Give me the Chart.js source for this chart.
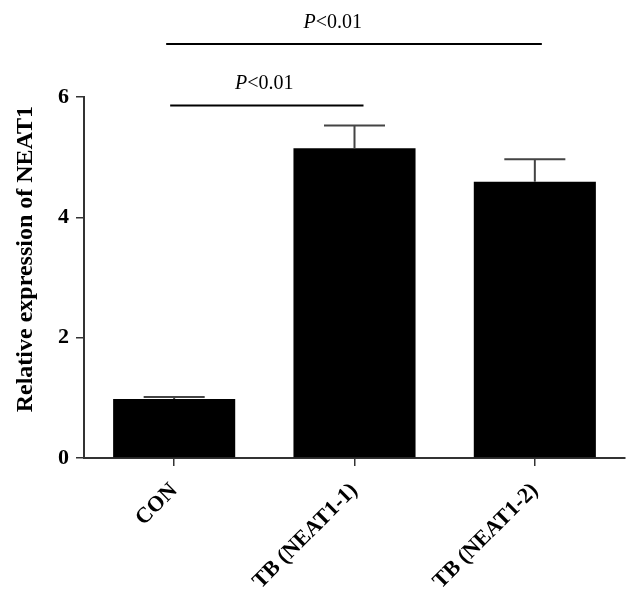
<!DOCTYPE html>
<html>
<head>
<meta charset="utf-8">
<script src="https://cdn.jsdelivr.net/npm/chart.js@4/dist/chart.umd.min.js"></script>
<style>
html,body{margin:0;padding:0;background:#fff;}
#wrap{width:639px;height:592px;position:relative;}
</style>
</head>
<body>
<div id="wrap"><canvas id="c" width="639" height="592"></canvas></div>
<script>
const categories = ['CON', 'TB (NEAT1-1)', 'TB (NEAT1-2)'];
const means = [0.98, 5.15, 4.59];
const errors = [0.035, 0.375, 0.375];
const yTicks = [0, 2, 4, 6];
const yTitle = 'Relative expression of NEAT1';
// significance brackets
const sigFrom = [0, 0];
const sigTo = [1, 2];
const sigY = [5.86, 6.88];
const sigLabel = ['P<0.01', 'P<0.01'];

const FONT = "'Liberation Serif', 'DejaVu Serif', serif";

const errorBarPlugin = {
  id: 'errorBars',
  afterDatasetsDraw(chart) {
    const ctx = chart.ctx;
    const meta = chart.getDatasetMeta(0);
    const y = chart.scales.y;
    ctx.save();
    ctx.strokeStyle = '#444';
    ctx.lineWidth = 2;
    meta.data.forEach((bar, i) => {
      const top = y.getPixelForValue(means[i] + errors[i]);
      const base = y.getPixelForValue(means[i]);
      const half = bar.width * 0.25;
      ctx.beginPath();
      ctx.moveTo(bar.x, base);
      ctx.lineTo(bar.x, top);
      ctx.moveTo(bar.x - half, top);
      ctx.lineTo(bar.x + half, top);
      ctx.stroke();
    });
    ctx.restore();
  }
};

const annotPlugin = {
  id: 'annot',
  afterDraw(chart) {
    const ctx = chart.ctx;
    const x = chart.scales.x;
    const y = chart.scales.y;
    const area = chart.chartArea;
    ctx.save();
    // y-axis title
    ctx.fillStyle = '#000';
    ctx.font = 'bold 24px ' + FONT;
    ctx.textAlign = 'center';
    ctx.textBaseline = 'middle';
    ctx.translate(26, area.top + (area.bottom - area.top) * 0.449);
    ctx.rotate(-Math.PI / 2);
    ctx.fillText(yTitle, 0, 0);
    ctx.restore();

    ctx.save();
    ctx.strokeStyle = '#000';
    ctx.lineWidth = 2;
    ctx.fillStyle = '#000';
    ctx.textBaseline = 'alphabetic';
    for (let i = 0; i < sigY.length; i++) {
      const x1 = x.getPixelForValue(sigFrom[i]);
      const x2 = x.getPixelForValue(sigTo[i]);
      const yy = y.getPixelForValue(sigY[i]);
      ctx.beginPath();
      if (i === 0) { ctx.moveTo(x1 - 4, yy); ctx.lineTo(x2 + 9, yy); }
      else { ctx.moveTo(x1 - 8, yy); ctx.lineTo(x2 + 7, yy); }
      ctx.stroke();
      const lbl = sigLabel[i];
      const pPart = lbl.charAt(0);
      const rest = lbl.slice(1);
      ctx.font = 'italic 20px ' + FONT;
      const w1 = ctx.measureText(pPart).width;
      ctx.font = '20px ' + FONT;
      const w2 = ctx.measureText(rest).width;
      const cx = i === 0 ? (x1 + x2) / 2 : x1 + 0.44 * (x2 - x1);
      const sx = cx - (w1 + w2) / 2;
      ctx.textAlign = 'left';
      ctx.font = 'italic 20px ' + FONT;
      ctx.fillText(pPart, sx, yy - 16);
      ctx.font = '20px ' + FONT;
      ctx.fillText(rest, sx + w1, yy - 16);
    }
    ctx.restore();
  }
};

new Chart(document.getElementById('c'), {
  type: 'bar',
  data: {
    labels: categories,
    datasets: [{
      data: means,
      backgroundColor: '#000',
      borderWidth: 0,
      barPercentage: 0.677,
      categoryPercentage: 1.0
    }]
  },
  options: {
    responsive: false,
    animation: false,
    layout: { padding: { top: 97, right: 14, left: 0, bottom: 0 } },
    plugins: { legend: { display: false }, tooltip: { enabled: false } },
    scales: {
      x: {
        offset: true,
        grid: { offset: false, drawOnChartArea: false, drawTicks: true, tickLength: 8, color: '#333', lineWidth: 1.5 },
        border: { display: true, color: '#333', width: 2 },
        ticks: {
          color: '#000',
          font: { family: FONT, size: 22, weight: 'bold' },
          maxRotation: 45, minRotation: 45, padding: 12
        },
        afterFit(s) { s.height = 134; }
      },
      y: {
        min: 0, max: 6,
        afterBuildTicks(s) { s.ticks = yTicks.map(v => ({ value: v })); },
        grid: { drawOnChartArea: false, drawTicks: true, tickLength: 8, color: '#333', lineWidth: 1.5 },
        border: { display: true, color: '#333', width: 2 },
        ticks: {
          color: '#000',
          font: { family: FONT, size: 22, weight: 'bold' },
          padding: 7
        },
        title: { display: false },
        afterFit(s) { s.width = 84; }
      }
    }
  },
  plugins: [errorBarPlugin, annotPlugin]
});
</script>
</body>
</html>
